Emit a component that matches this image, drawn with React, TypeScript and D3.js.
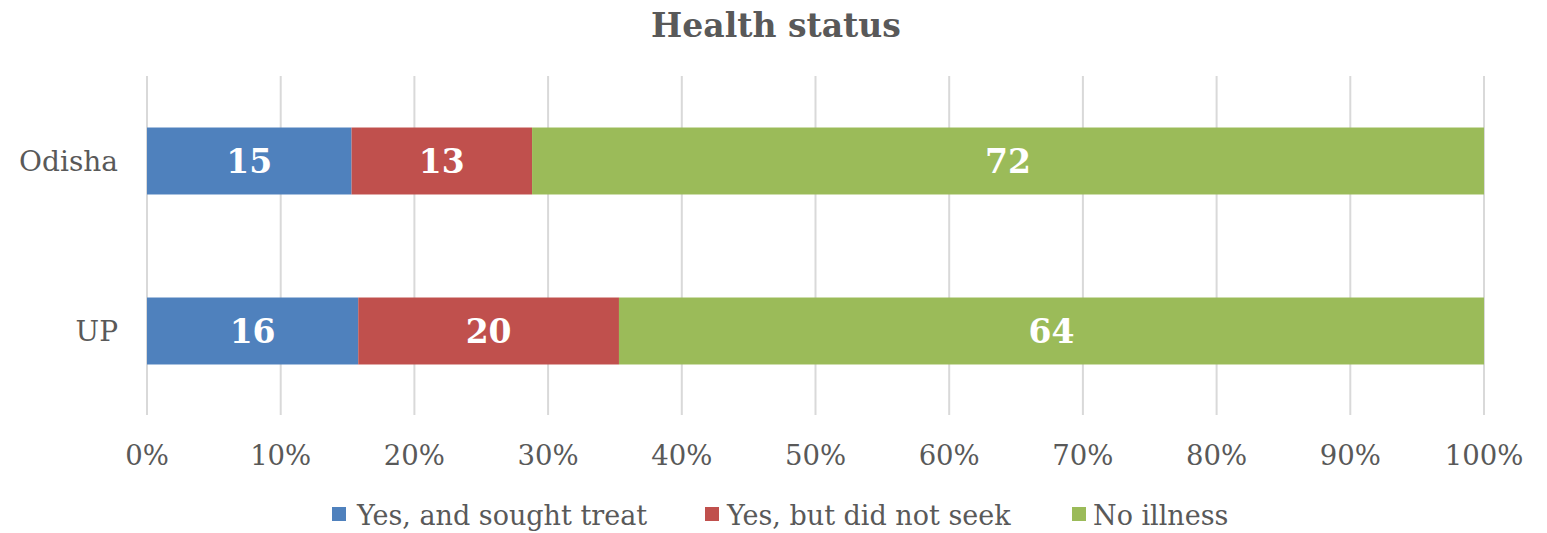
import React from "react";
import * as d3 from "d3";

const categories = ["Odisha", "UP"];
const seriesNames = ["Yes, and sought treat", "Yes, but did not seek", "No illness"];
const seriesColors = ["#4F81BD", "#C0504D", "#9BBB59"];
// segment shares (percent of bar)
const soughtTreat = [15.3, 15.8];
const didNotSeek = [13.5, 19.5];
const noIllness = [71.2, 64.7];
// data labels as printed on the bars
const soughtTreatLabels = ["15", "16"];
const didNotSeekLabels = ["13", "20"];
const noIllnessLabels = ["72", "64"];
const xTicks = [0, 10, 20, 30, 40, 50, 60, 70, 80, 90, 100];

const W = 1547;
const H = 533;
const FONT = "'DejaVu Serif', serif";
const TEXT = "#595959";

export default function App() {
  const x = d3.scaleLinear().domain([0, 100]).range([147, 1484]);
  const y = d3.scaleBand<string>().domain(categories).range([76, 416]).paddingInner(0.606).paddingOuter(0.303);

  const rows = categories.map((c, i) => ({
    cat: c,
    vals: [soughtTreat[i], didNotSeek[i], noIllness[i]],
    labels: [soughtTreatLabels[i], didNotSeekLabels[i], noIllnessLabels[i]],
  }));
  const stack = d3.stack<any>().keys(["0", "1", "2"]).value((d, k) => d.vals[+k]);
  const stacked = stack(rows);

  const legendItems = [
    { sx: 332, tx: 357 },
    { sx: 705, tx: 727 },
    { sx: 1072, tx: 1093 },
  ];

  return (
    <div style={{ position: "absolute", left: 0, top: 0 }}>
      <svg width={W} height={H} style={{ display: "block", background: "#fff" }}>
        <text x={776} y={37} textAnchor="middle" fontFamily={FONT} fontWeight="bold" fontSize={33} fill={TEXT}>
          Health status
        </text>
        {xTicks.map((t) => (
          <line key={t} x1={x(t)} x2={x(t)} y1={76} y2={415} stroke="#D9D9D9" strokeWidth={2} />
        ))}
        {stacked.map((s, si) =>
          s.map((d, ci) => (
            <rect
              key={si + "-" + ci}
              x={x(d[0])}
              y={y(categories[ci])}
              width={x(d[1]) - x(d[0])}
              height={y.bandwidth()}
              fill={seriesColors[si]}
            />
          ))
        )}
        {stacked.map((s, si) =>
          s.map((d, ci) => (
            <text
              key={"l" + si + "-" + ci}
              x={(x(d[0]) + x(d[1])) / 2}
              y={(y(categories[ci]) as number) + y.bandwidth() / 2 + 12}
              textAnchor="middle"
              fontFamily={FONT}
              fontWeight="bold"
              fontSize={33}
              fill="#fff"
            >
              {rows[ci].labels[si]}
            </text>
          ))
        )}
        {categories.map((c) => (
          <text
            key={c}
            x={118}
            y={(y(c) as number) + y.bandwidth() / 2 + 10}
            textAnchor="end"
            fontFamily={FONT}
            fontSize={28}
            fill={TEXT}
          >
            {c}
          </text>
        ))}
        {xTicks.map((t) => (
          <text key={"t" + t} x={x(t)} y={465} textAnchor="middle" fontFamily={FONT} fontSize={27.5} fill={TEXT}>
            {t + "%"}
          </text>
        ))}
        {seriesNames.map((n, i) => (
          <g key={n}>
            <rect x={legendItems[i].sx} y={507} width={14} height={14} fill={seriesColors[i]} />
            <text x={legendItems[i].tx} y={525} fontFamily={FONT} fontSize={27} fill={TEXT}>
              {n}
            </text>
          </g>
        ))}
      </svg>
    </div>
  );
}
